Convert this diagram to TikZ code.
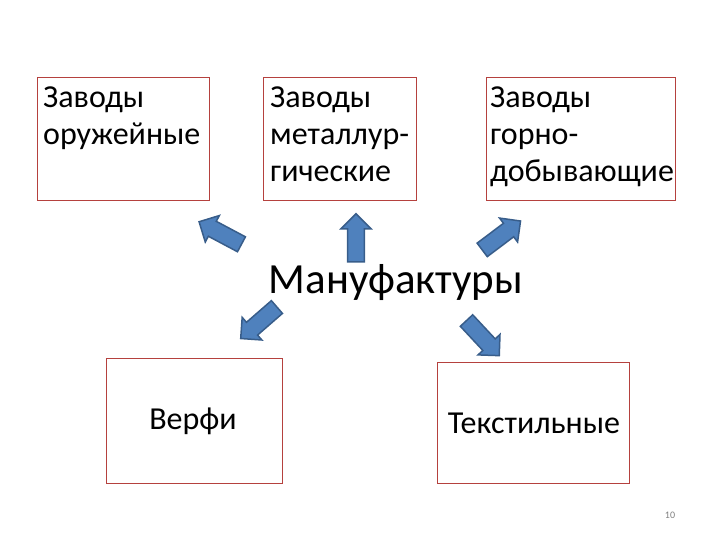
\documentclass[tikz,border=0pt]{standalone}
\usepackage{fontspec}
\setmainfont{Carlito}
\usetikzlibrary{shapes.arrows}
\definecolor{boxred}{HTML}{B5413E}
\definecolor{arrfill}{HTML}{4F81BD}
\definecolor{arrline}{HTML}{385D8A}
\tikzset{
 box/.style={draw=boxred,line width=1.2pt,anchor=north west,inner sep=0pt},
 txt/.style={anchor=north west,align=left,inner sep=0pt,font=\fontsize{32}{37}\selectfont},
 arr/.style={single arrow,draw=arrline,fill=arrfill,line width=1.5pt,minimum height=48pt,minimum width=30pt,single arrow head extend=6pt,inner xsep=0pt,inner ysep=7pt,single arrow head indent=0pt}
}
\begin{document}
\begin{tikzpicture}[x=1pt,y=-1pt]
\useasboundingbox (0,0) rectangle (720,540);
\node[box,minimum width=172pt,minimum height=123pt] (b1) at (37,77) {};
\node[box,minimum width=153pt,minimum height=123pt] (b2) at (263,77) {};
\node[box,minimum width=189pt,minimum height=123pt] (b3) at (486,77) {};
\node[box,minimum width=176pt,minimum height=125pt] (b4) at (106,358) {};
\node[box,minimum width=192pt,minimum height=121pt] (b5) at (437,362) {};
\node[txt] (t1) at (43,87) {Заводы\\оружейные};
\node[txt] (t2) at (270,87) {Заводы\\металлур-\\гические};
\node[txt] (t3) at (490,87) {Заводы\\горно-\\добывающие};
\node[font=\fontsize{32}{37}\selectfont] (t4) at (193,421) {Верфи};
\node[font=\fontsize{32}{37}\selectfont] (t5) at (534,423) {Текстильные};
\node[font=\fontsize{43}{50}\selectfont] (m) at (396,283) {Мануфактуры};
\node[arr,rotate=152] (a1) at (224,235) {};
\node[arr,rotate=90] (a2) at (356,242) {};
\node[arr,rotate=37] (a3) at (498,238) {};
\node[arr,rotate=-139] (a4) at (262,320) {};
\node[arr,rotate=-47] (a5) at (480,335) {};
\node[text=gray,font=\fontsize{10}{12}\selectfont] (p) at (670,515) {10};
\end{tikzpicture}
\end{document}
